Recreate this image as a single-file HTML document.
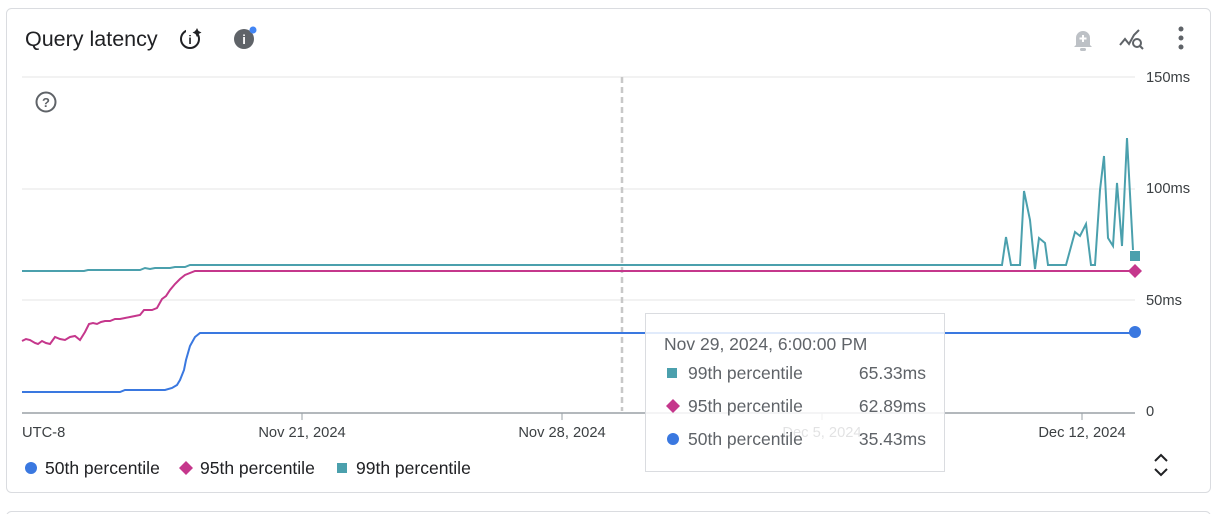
<!DOCTYPE html>
<html><head><meta charset="utf-8"><style>
body{margin:0;background:#fff;width:1221px;height:514px;overflow:hidden;font-family:"Liberation Sans",Roboto,sans-serif}
</style></head><body>
<svg width="1221" height="514" xmlns="http://www.w3.org/2000/svg" font-family="Liberation Sans, sans-serif">
<rect x="6.5" y="8.5" width="1204" height="484" rx="5" fill="#fff" stroke="#dadce0"/>
<rect x="6.5" y="511.5" width="1204" height="20" rx="5" fill="#fff" stroke="#dadce0"/>
<text x="25" y="46" font-size="21.5" fill="#202124">Query latency</text>
<circle cx="190" cy="39" r="9" fill="none" stroke="#202124" stroke-width="2"/>
<rect x="186" y="28" width="9" height="5" fill="#fff"/>
<text x="190" y="44" font-size="12" font-weight="bold" text-anchor="middle" fill="#202124">i</text>
<path d="M197 28 l1.5 3 3 1.5 -3 1.5 -1.5 3 -1.5 -3 -3 -1.5 3 -1.5z" fill="#202124"/>
<circle cx="244" cy="39" r="10" fill="#5f6368"/>
<text x="244" y="44" font-size="13" font-weight="bold" text-anchor="middle" fill="#fff">i</text>
<circle cx="253" cy="30" r="3.5" fill="#4285f4"/>
<path d="M1076 45 v-7 a7 7 0 0 1 14 0 v7 l2 2 h-18z" fill="#bdc1c6"/>
<rect x="1080" y="48" width="6" height="3" rx="1.5" fill="#bdc1c6"/>
<path d="M1083 35 v7 M1079.5 38.5 h7" stroke="#fff" stroke-width="2"/>
<path d="M1120 45 l5-6 4 5 5-9 5-5" fill="none" stroke="#5f6368" stroke-width="2"/>
<circle cx="1137" cy="43" r="4" fill="#fff" stroke="#5f6368" stroke-width="2"/>
<path d="M1140 46 l3 3" stroke="#5f6368" stroke-width="2"/>
<circle cx="1181" cy="29" r="2.5" fill="#5f6368"/><circle cx="1181" cy="38" r="2.5" fill="#5f6368"/><circle cx="1181" cy="47" r="2.5" fill="#5f6368"/>
<g stroke="#eeeeee" stroke-width="1.5">
<line x1="22" y1="77" x2="1135" y2="77"/><line x1="22" y1="189" x2="1135" y2="189"/><line x1="22" y1="300" x2="1135" y2="300"/>
</g>
<line x1="22" y1="413" x2="1135" y2="413" stroke="#9aa0a6" stroke-width="1.5"/>
<g stroke="#9aa0a6"><line x1="302" y1="413" x2="302" y2="420"/><line x1="562" y1="413" x2="562" y2="420"/><line x1="822" y1="413" x2="822" y2="420"/><line x1="1082" y1="413" x2="1082" y2="420"/></g>
<g font-size="14.7" fill="#3c4043">
<text x="1146" y="82">150ms</text><text x="1146" y="193">100ms</text><text x="1146" y="305">50ms</text><text x="1146" y="416">0</text>
<text x="22" y="437">UTC-8</text>
<text x="302" y="437" text-anchor="middle">Nov 21, 2024</text>
<text x="562" y="437" text-anchor="middle">Nov 28, 2024</text>
<text x="822" y="437" text-anchor="middle">Dec 5, 2024</text>
<text x="1082" y="437" text-anchor="middle">Dec 12, 2024</text>
</g>
<circle cx="46" cy="102" r="9.5" fill="none" stroke="#5f6368" stroke-width="2"/>
<text x="46" y="107" font-size="13" font-weight="bold" text-anchor="middle" fill="#5f6368">?</text>
<line x1="622" y1="77" x2="622" y2="411" stroke="#c8c8c8" stroke-width="2.5" stroke-dasharray="6,4"/>
<polyline fill="none" stroke="#4ba0ad" stroke-width="2" points="22,271 84,271 88,270 140,270 145,268 150,269 155,268 170,268 175,267 185,267 190,265 1002,265 1006,237 1011,265 1020,265 1024,191 1030,220 1035,269 1039,238 1045,243 1048,265 1066,265 1075,232 1080,236 1086,224 1091,265 1095,265 1100,190 1104,156 1108,238 1113,246 1117,183 1122,246 1127,138 1133,250"/>
<polyline fill="none" stroke="#c5378c" stroke-width="2" points="22,341 26,339 30,340 35,343 38,344 42,341 46,343 50,344 55,337 60,339 65,340 70,337 75,336 80,340 85,332 89,324 93,323 97,324 101,322 105,321 110,321 115,319 120,319 125,318 130,317 135,316 140,315 144,310 152,310 157,308 162,299 166,296 170,290 175,284 180,279 185,275 195,271 1135,271"/>
<polyline fill="none" stroke="#3a78e0" stroke-width="2" points="22,392 120,392 125,390 165,390 172,388 177,385 180,380 184,370 186,360 190,346 195,337 200,333 1135,333"/>
<rect x="1130" y="251" width="10" height="10" fill="#4ba0ad"/>
<path d="M1135 264 l7 7 -7 7 -7 -7z" fill="#c5378c"/>
<circle cx="1135" cy="332" r="6" fill="#3a78e0"/>
<g font-size="17.5" fill="#202124">
<circle cx="31" cy="468" r="6" fill="#3a78e0"/><text x="45" y="474">50th percentile</text>
<path d="M186 461 l7 7 -7 7 -7 -7z" fill="#c5378c"/><text x="200" y="474">95th percentile</text>
<rect x="337" y="463" width="10" height="10" fill="#4ba0ad"/><text x="356" y="474">99th percentile</text>
</g>
<path d="M1155 461 l6 -6 6 6 M1155 469 l6 6 6 -6" fill="none" stroke="#202124" stroke-width="2"/>
<rect x="645.5" y="313.5" width="299" height="158" fill="#fff" fill-opacity="0.85" stroke="#dadce0"/>
<g font-size="17.5" fill="#5f6368">
<text x="664" y="350">Nov 29, 2024, 6:00:00 PM</text>
<rect x="667" y="368" width="10" height="10" fill="#4ba0ad"/><text x="688" y="379">99th percentile</text><text x="926" y="379" text-anchor="end">65.33ms</text>
<path d="M673 399 l7 7 -7 7 -7 -7z" fill="#c5378c"/><text x="688" y="412">95th percentile</text><text x="926" y="412" text-anchor="end">62.89ms</text>
<circle cx="673" cy="439" r="6" fill="#3a78e0"/><text x="688" y="445">50th percentile</text><text x="926" y="445" text-anchor="end">35.43ms</text>
</g>
</svg>
</body></html>
